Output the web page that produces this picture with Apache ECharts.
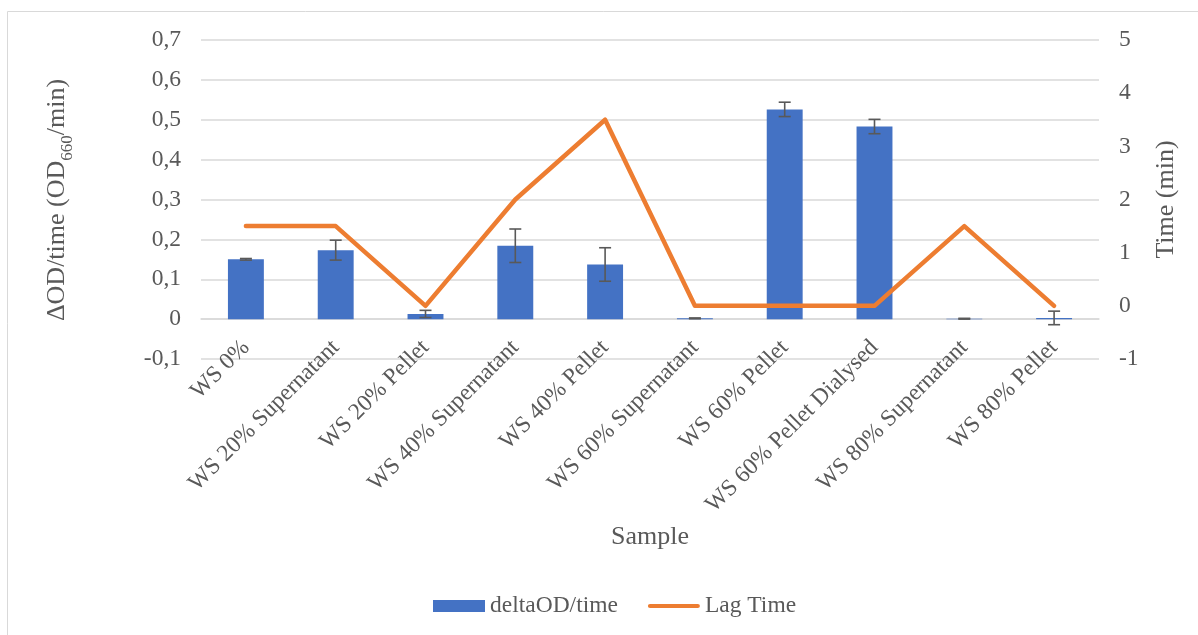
<!DOCTYPE html>
<html>
<head>
<meta charset="utf-8">
<script src="https://cdn.jsdelivr.net/npm/echarts@6/dist/echarts.min.js"></script>
<style>
html,body{margin:0;padding:0;background:#fff;}
#chart{width:1198px;height:635px;}
</style>
</head>
<body>
<div id="chart"></div>
<script>
const categories = ['WS 0%','WS 20% Supernatant','WS 20% Pellet','WS 40% Supernatant','WS 40% Pellet','WS 60% Supernatant','WS 60% Pellet','WS 60% Pellet Dialysed','WS 80% Supernatant','WS 80% Pellet'];
const deltaOD = [0.150, 0.173, 0.013, 0.184, 0.137, 0.002, 0.526, 0.483, 0.001, 0.003];
const deltaErr = [0.002, 0.025, 0.009, 0.042, 0.042, 0.001, 0.018, 0.018, 0.001, 0.017];
const lagTime = [1.5, 1.5, 0, 2, 3.5, 0, 0, 0, 1.5, 0];
const leftTicks = {min: -0.1, max: 0.7, interval: 0.1};
const rightTicks = {min: -1, max: 5, interval: 1};

const FONT = '"Liberation Serif", "Times New Roman", serif';
const TXT = '#595959';
const FS = 23.5;
const TFS = 26;
const errData = deltaOD.map((v, i) => [i, v - deltaErr[i], v + deltaErr[i]]);

const chart = echarts.init(document.getElementById('chart'));
chart.setOption({
  animation: false,
  textStyle: {fontFamily: FONT, color: TXT},
  grid: {left: 201, right: 99, top: 40, bottom: 276, containLabel: false},
  graphic: [
    {type: 'rect', shape: {x: 7.5, y: 11.5, width: 1200, height: 640}, style: {fill: 'none', stroke: '#d9d9d9', lineWidth: 1}, silent: true, z: -10},
    {type: 'text', x: 60, y: 200, rotation: Math.PI / 2, silent: true,
      style: {
        text: '{a|ΔOD/time (OD}{s|660}{a|/min)}',
        align: 'center', verticalAlign: 'middle',
        rich: {
          a: {fontFamily: FONT, fontSize: TFS, fill: TXT, verticalAlign: 'bottom', padding: [0, 0, 6, 0]},
          s: {fontFamily: FONT, fontSize: 17, fill: TXT, verticalAlign: 'bottom'}
        }
      }}
  ],
  legend: {
    left: 428, top: 589,
    itemWidth: 52, itemHeight: 12, itemGap: 30,
    textStyle: {fontFamily: FONT, fontSize: FS, color: TXT},
    data: [
      {name: 'deltaOD/time', icon: 'rect'},
      {name: 'Lag Time', icon: 'path://M0,0L0.001,0L0,0.001Z M0,12L0.001,12L0,11.999Z M2,3.7H54A2.3,2.3 0 0 1 54,8.3H2A2.3,2.3 0 0 1 2,3.7Z'}
    ]
  },
  xAxis: {
    type: 'category', data: categories,
    name: 'Sample', nameLocation: 'middle', nameGap: 165,
    nameTextStyle: {fontFamily: FONT, fontSize: TFS, color: TXT},
    axisLine: {show: true, onZero: true, onZeroAxisIndex: 0, lineStyle: {color: '#d9d9d9', width: 1.5}},
    axisTick: {show: false},
    axisLabel: {interval: 0, rotate: 45, margin: -15, fontFamily: FONT, fontSize: FS, color: TXT},
    splitLine: {show: false}
  },
  yAxis: [
    {
      type: 'value', min: leftTicks.min, max: leftTicks.max, interval: leftTicks.interval,
      axisLine: {show: false}, axisTick: {show: false},
      axisLabel: {margin: 20, fontFamily: FONT, fontSize: FS, color: TXT,
        formatter: v => String(Number(v.toFixed(1))).replace('.', ',')},
      splitLine: {lineStyle: {color: '#d9d9d9', width: 1.5}}
    },
    {
      type: 'value', min: rightTicks.min, max: rightTicks.max, interval: rightTicks.interval,
      name: 'Time (min)', nameLocation: 'middle', nameGap: 54, nameRotate: 90,
      nameTextStyle: {fontFamily: FONT, fontSize: TFS, color: TXT},
      axisLine: {show: false}, axisTick: {show: false},
      axisLabel: {margin: 20, fontFamily: FONT, fontSize: FS, color: TXT,
        formatter: v => String(Math.round(v))},
      splitLine: {show: false}
    }
  ],
  series: [
    {
      name: 'deltaOD/time', type: 'bar', data: deltaOD, yAxisIndex: 0,
      barWidth: '40%', itemStyle: {color: '#4472C4'}, z: 2
    },
    {
      name: 'errors', type: 'custom', yAxisIndex: 0, data: errData, z: 3,
      encode: {x: 0, y: [1, 2]},
      renderItem: function (params, api) {
        const x = api.value(0);
        const lo = api.coord([x, api.value(1)]);
        const hi = api.coord([x, api.value(2)]);
        const cap = 6;
        const st = {stroke: '#595959', lineWidth: 1.6, fill: 'none'};
        return {type: 'group', children: [
          {type: 'line', shape: {x1: lo[0], y1: lo[1], x2: hi[0], y2: hi[1]}, style: st},
          {type: 'line', shape: {x1: lo[0] - cap, y1: lo[1], x2: lo[0] + cap, y2: lo[1]}, style: st},
          {type: 'line', shape: {x1: hi[0] - cap, y1: hi[1], x2: hi[0] + cap, y2: hi[1]}, style: st}
        ]};
      }
    },
    {
      name: 'Lag Time', type: 'line', data: lagTime, yAxisIndex: 1,
      symbol: 'none', z: 4,
      lineStyle: {color: '#ED7D31', width: 4.5, cap: 'round', join: 'round'},
      itemStyle: {color: '#ED7D31'}
    }
  ]
});
</script>
</body>
</html>
